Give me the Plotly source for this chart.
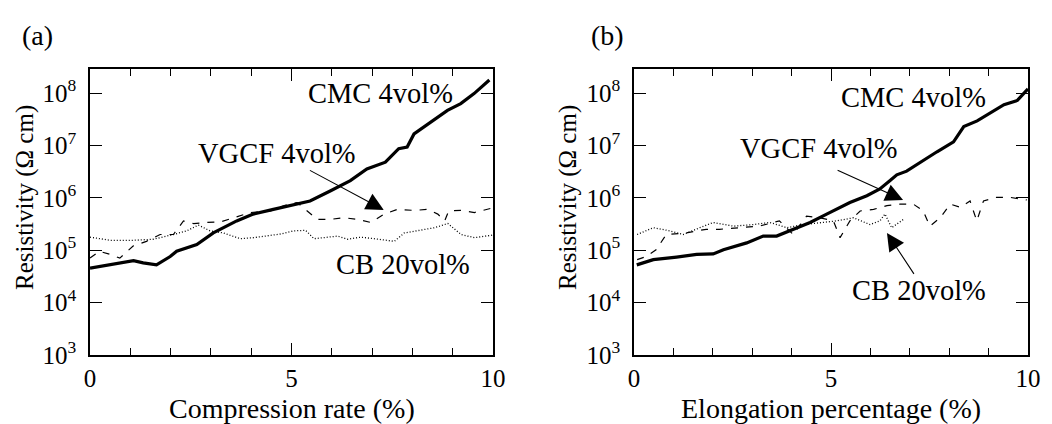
import plotly.graph_objects as go

# ---------------- data (log10 of resistivity in Ohm cm) ----------------
# Panel (a): compression
a_cmc_x = [0.0, 0.5, 1.08, 1.32, 1.65, 1.99, 2.15, 2.65, 3.06, 3.64, 4.05, 4.55, 4.96, 5.46, 5.96,
           6.46, 6.87, 7.33, 7.66, 7.87, 8.04, 8.45, 8.87, 9.2, 9.53, 9.91]
a_cmc_y = [4.66, 4.72, 4.80, 4.76, 4.72, 4.88, 4.98, 5.11, 5.33, 5.56, 5.69, 5.78, 5.85, 5.94, 6.13,
           6.33, 6.55, 6.68, 6.94, 6.97, 7.22, 7.45, 7.67, 7.80, 7.99, 8.25]

a_vgcf_x = [0.0, 0.23, 0.5, 0.74, 1.07, 1.4, 1.74, 2.07, 2.32, 2.57, 2.9, 3.23, 3.57, 3.98, 4.48, 4.8,
            5.14, 5.39, 5.64, 5.97, 6.3, 6.63, 6.97, 7.3, 7.63, 8.05, 8.38, 8.63, 8.8, 8.9, 9.2, 9.54, 9.95]
a_vgcf_y = [4.85, 4.98, 4.92, 4.85, 5.08, 5.17, 5.30, 5.30, 5.56, 5.51, 5.53, 5.54, 5.62, 5.72, 5.75, 5.85,
            5.91, 5.75, 5.59, 5.59, 5.62, 5.59, 5.53, 5.69, 5.78, 5.76, 5.78, 5.69, 5.56, 5.75, 5.76, 5.72, 5.80]

a_cb_x = [0.0, 0.5, 1.08, 1.57, 2.07, 2.4, 2.69, 2.98, 3.31, 3.73, 4.06, 4.39, 4.73, 5.06, 5.35, 5.56,
          5.89, 6.14, 6.39, 6.72, 7.05, 7.55, 7.8, 8.21, 8.55, 8.88, 9.21, 9.54, 10.0]
a_cb_y = [5.25, 5.19, 5.19, 5.21, 5.30, 5.37, 5.48, 5.37, 5.33, 5.22, 5.24, 5.27, 5.31, 5.37, 5.38, 5.22,
          5.25, 5.27, 5.21, 5.25, 5.22, 5.17, 5.33, 5.38, 5.43, 5.51, 5.30, 5.24, 5.29]

# Panel (b): elongation
b_cmc_x = [0.07, 0.49, 1.08, 1.59, 2.01, 2.27, 2.86, 3.28, 3.62, 4.04, 4.47, 4.89, 5.23, 5.48, 5.91,
           6.24, 6.5, 6.67, 6.92, 7.26, 7.69, 8.11, 8.37, 8.71, 9.05, 9.39, 9.73, 10.0]
b_cmc_y = [4.72, 4.82, 4.87, 4.92, 4.93, 5.01, 5.14, 5.27, 5.27, 5.40, 5.53, 5.69, 5.82, 5.91, 6.04,
           6.17, 6.33, 6.44, 6.51, 6.68, 6.88, 7.07, 7.36, 7.47, 7.63, 7.78, 7.86, 8.08]

b_vgcf_x = [0.08, 0.31, 0.56, 0.82, 1.32, 1.83, 2.17, 2.67, 3.18, 3.69, 4.04, 4.38, 4.72, 5.06, 5.23,
            5.48, 5.74, 6.08, 6.42, 6.75, 7.09, 7.34, 7.51, 7.77, 8.03, 8.28, 8.53, 8.7, 8.87, 9.2, 9.54, 9.97]
b_vgcf_y = [4.82, 4.88, 5.01, 5.30, 5.33, 5.40, 5.40, 5.43, 5.46, 5.56, 5.30, 5.65, 5.62, 5.56, 5.24,
            5.56, 5.75, 5.78, 5.85, 5.88, 5.88, 5.75, 5.46, 5.62, 5.88, 5.82, 5.94, 5.56, 5.94, 6.01, 6.01, 5.96]

b_cb_x = [0.08, 0.49, 0.91, 1.25, 1.67, 2.01, 2.52, 3.03, 3.45, 3.88, 4.3, 4.72, 5.14, 5.57, 5.99,
          6.24, 6.37, 6.54, 6.84]
b_cb_y = [5.30, 5.43, 5.37, 5.30, 5.43, 5.53, 5.46, 5.49, 5.53, 5.43, 5.49, 5.53, 5.56, 5.62, 5.49,
          5.56, 5.69, 5.43, 5.59]

y_tickvals = [1e3, 1e4, 1e5, 1e6, 1e7, 1e8]
y_ticktext = ["10<sup>3</sup>", "10<sup>4</sup>", "10<sup>5</sup>", "10<sup>6</sup>", "10<sup>7</sup>", "10<sup>8</sup>"]
x_tickvals = [0, 5, 10]
x_ticktext = ["0", "5", "10"]

FONT = "Liberation Serif"
W, H = 1052, 424

fig = go.Figure()

def pw(v):
    return [10 ** t for t in v]

series = [
    ("x", "y", a_cmc_x, a_cmc_y, dict(color="black", width=3.2)),
    ("x", "y", a_vgcf_x, a_vgcf_y, dict(color="black", width=1.2, dash="7px,8px")),
    ("x", "y", a_cb_x, a_cb_y, dict(color="black", width=1.3, dash="1px,2px")),
    ("x2", "y2", b_cmc_x, b_cmc_y, dict(color="black", width=3.2)),
    ("x2", "y2", b_vgcf_x, b_vgcf_y, dict(color="black", width=1.2, dash="7px,8px")),
    ("x2", "y2", b_cb_x, b_cb_y, dict(color="black", width=1.3, dash="1px,2px")),
]
for xa, ya, xs, ys, ln in series:
    fig.add_trace(go.Scatter(x=xs, y=pw(ys), mode="lines", line=ln, xaxis=xa, yaxis=ya,
                             showlegend=False, hoverinfo="skip"))

ydom = [1 - 355 / H, 1 - 69 / H]
ax_common = dict(showline=True, linecolor="black", linewidth=1.5, mirror="allticks",
                 ticks="inside", tickcolor="black", showgrid=False, zeroline=False, automargin=False,
                 tickfont=dict(family=FONT, size=25, color="black"))

xcfg = dict(ax_common, range=[0, 10], tickvals=x_tickvals, ticktext=x_ticktext, ticklen=12, tickwidth=1.2,
            minor=dict(dtick=1, ticklen=7, ticks="inside", tickcolor="black", tickwidth=1.2, showgrid=False),
            ticklabelstandoff=0)
ycfg = dict(ax_common, type="log", range=[3, 8.46], tickvals=y_tickvals, ticktext=y_ticktext,
            ticklen=12, tickwidth=1.2, ticklabelstandoff=7)

fig.update_layout(
    width=W, height=H, margin=dict(l=0, r=0, t=0, b=0, autoexpand=False),
    paper_bgcolor="white", plot_bgcolor="white",
    xaxis=dict(xcfg, domain=[90 / W, 493 / W], anchor="y"),
    yaxis=dict(ycfg, domain=ydom, anchor="x"),
    xaxis2=dict(xcfg, domain=[634 / W, 1028 / W], anchor="y2"),
    yaxis2=dict(ycfg, domain=ydom, anchor="x2"),
)

tf = dict(family=FONT, size=28.5, color="black")
tfx = dict(family=FONT, size=28, color="black")
tfy = dict(family=FONT, size=25, color="black")
C = dict(xanchor="center", yanchor="middle", showarrow=False)
anns = []
# panel labels
anns.append(dict(C, text="(a)", x=37 / W, y=1 - 36 / H, xref="paper", yref="paper",
                 font=dict(family=FONT, size=28, color="black")))
anns.append(dict(C, text="(b)", x=607 / W, y=1 - 36 / H, xref="paper", yref="paper",
                 font=dict(family=FONT, size=28, color="black")))
# axis titles
anns.append(dict(C, text="Compression rate (%)", x=292 / W, y=1 - 408 / H, xref="paper", yref="paper",
                 font=tfx))
anns.append(dict(C, text="Elongation percentage (%)", x=831 / W, y=1 - 408 / H, xref="paper", yref="paper",
                 font=tfx))
anns.append(dict(C, text="Resistivity (Ω cm)", x=25 / W, y=1 - 198 / H, xref="paper", yref="paper",
                 textangle=-90, font=tfy))
anns.append(dict(C, text="Resistivity (Ω cm)", x=568 / W, y=1 - 198 / H, xref="paper", yref="paper",
                 textangle=-90, font=tfy))
# series labels
for xr, yr, txt, x, y in [("x", "y", "CMC 4vol%", 7.21, 8.0), ("x", "y", "VGCF 4vol%", 4.63, 6.85),
                          ("x", "y", "CB 20vol%", 7.76, 4.73),
                          ("x2", "y2", "CMC 4vol%", 7.1, 7.92), ("x2", "y2", "VGCF 4vol%", 4.7, 6.94),
                          ("x2", "y2", "CB 20vol%", 7.23, 4.23)]:
    anns.append(dict(C, text=txt, x=x, y=y, xref=xr, yref=yr, font=tf))
# arrows
for xr, yr, hx, hy, tx, ty in [("x", "y", 7.29, 5.77, 5.42, 6.54),
                               ("x2", "y2", 6.83, 5.96, 5.13, 6.54),
                               ("x2", "y2", 6.42, 5.33, 7.13, 4.52)]:
    anns.append(dict(text="", x=hx, y=hy, ax=tx, ay=ty, xref=xr, yref=yr, axref=xr, ayref=yr,
                     showarrow=True, arrowhead=2, arrowsize=3.2, arrowwidth=1.1, arrowcolor="black",
                     standoff=0))
fig.update_layout(annotations=anns)

fig.write_html("out.html")
